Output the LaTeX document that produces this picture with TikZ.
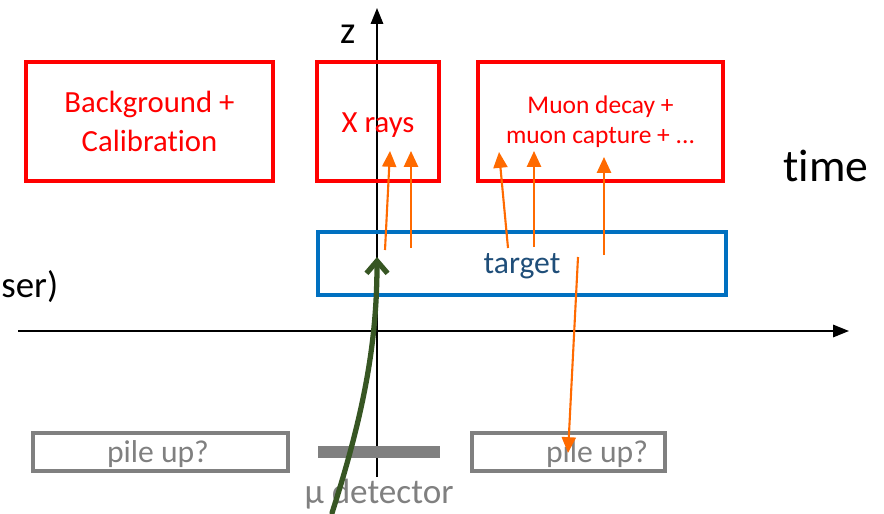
\documentclass[tikz,border=0pt]{standalone}
\usepackage{fontspec}
\setmainfont{Carlito}[Ligatures=NoCommon]
\usetikzlibrary{arrows.meta, positioning}

\definecolor{boxred}{HTML}{FF0000}
\definecolor{tgtblue}{HTML}{0070C0}
\definecolor{tgttext}{HTML}{1F4E79}
\definecolor{pilegray}{HTML}{808080}
\definecolor{photon}{HTML}{FF6A00}
\definecolor{muongreen}{HTML}{375623}

\tikzset{
  window/.style={draw=boxred, line width=1.8pt, text=boxred, align=center, inner sep=0pt},
  tgtbox/.style={draw=tgtblue, line width=1.8pt, inner sep=0pt},
  pilebox/.style={draw=pilegray, line width=1.8pt, inner sep=0pt},
  graytext/.style={text=pilegray, font=\fontsize{18}{20}\selectfont},
  axis/.style={line width=1pt, -{Triangle[length=9pt, width=7pt]}},
  emission/.style={photon, line width=1.2pt, -{Triangle[length=9pt, width=8pt]}},
  muon/.style={muongreen, line width=3pt, line cap=round, -{Straight Barb[length=7pt, width=12pt, line width=3pt]}}
}

\begin{document}
\begin{tikzpicture}[x=0.02cm, y=-0.02cm]
	\useasboundingbox (0,0) rectangle (884,513);

	% axes
	\coordinate (zbot) at (377,477);
	\coordinate (ztop) at (377,8);
	\coordinate (tleft) at (18,331);
	\coordinate (tright) at (849,331);
	\draw[axis] (zbot) -- (ztop);
	\draw[axis] (tleft) -- (tright);
	\node[font=\fontsize{22}{24}\selectfont] (zlabel) at (348,34) {z};
	\node[font=\fontsize{26}{28}\selectfont] (tlabel) at (826,166) {time};
	\node[font=\fontsize{21}{24}\selectfont, anchor=west, inner sep=0pt] (laser) at (1,287) {ser)};

	% time windows
	\node[window, minimum width=4.94cm, minimum height=2.38cm,
	      font=\fontsize{17.5}{22}\selectfont] (bg) at (149.5,121.5) {Background +\\Calibration};
	\node[window, minimum width=2.44cm, minimum height=2.38cm] (xr) at (378,121.5) {};
	\node[text=boxred, font=\fontsize{17.5}{20}\selectfont] (xrtext) at (378,125) {X rays};
	\node[window, minimum width=4.9cm, minimum height=2.38cm,
	      font=\fontsize{14.5}{17}\selectfont] (mu) at (600.5,121.5) {Muon decay +\\muon capture + ...};

	% target
	\node[tgtbox, minimum width=8.16cm, minimum height=1.26cm] (tgt) at (522,263.5) {};
	\node[text=tgttext, font=\fontsize{18}{20}\selectfont] (tgttxt) at (522,266) {target};

	% pile up windows and detector
	\node[pilebox, minimum width=5.1cm, minimum height=0.76cm] (pl) at (160.5,452) {};
	\node[graytext] (pltxt) at (158,454) {pile up?};
	\node[pilebox, minimum width=3.86cm, minimum height=0.76cm] (pr) at (568.5,452) {};
	\node[graytext] (prtxt) at (597,454) {pile up?};
	\node[fill=pilegray, minimum width=2.44cm, minimum height=0.24cm, inner sep=0pt] (det) at (379,452) {};
	\node[graytext, font=\fontsize{20}{22}\selectfont, below=0.3cm of det] (dettxt) {μ detector};

	% emitted particles
	\coordinate (e1) at (385,250);
	\coordinate (e2) at (411,248);
	\coordinate (e3) at (508,248);
	\coordinate (e4) at (534,247);
	\coordinate (e5) at (604,255);
	\coordinate (e6) at (578,257);
	\draw[emission] (e1) -- (390,151);
	\draw[emission] (e2) -- (411,151);
	\draw[emission] (e3) -- (499,152);
	\draw[emission] (e4) -- (534,151);
	\draw[emission] (e5) -- (604,157);
	\draw[emission] (e6) -- (568,453);

	% incoming muon
	\coordinate (muin) at (332,513);
	\coordinate (stop) at (377,257);
	\draw[muon] (muin) .. controls (365,410) and (377,340) .. (stop);
\end{tikzpicture}
\end{document}
